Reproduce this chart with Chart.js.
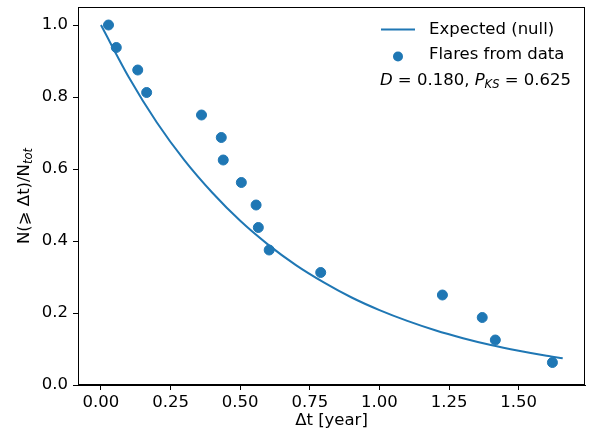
<!DOCTYPE html>
<html>
<head>
<meta charset="utf-8">
<script src="https://cdn.jsdelivr.net/npm/chart.js@4"></script>
<style>
  html, body { margin: 0; padding: 0; background: #fff; }
  #wrap { width: 597px; height: 437px; }
</style>
</head>
<body>
<div id="wrap"><canvas id="myChart" width="597" height="437"></canvas></div>
<script>
// Données
const flareDt = [0.027, 0.055, 0.132, 0.164, 0.361, 0.432, 0.439, 0.504, 0.557, 0.565, 0.604, 0.789, 1.226, 1.369, 1.416, 1.621];
const flareFrac = [1.0, 0.9375, 0.875, 0.8125, 0.75, 0.6875, 0.625, 0.5625, 0.5, 0.4375, 0.375, 0.3125, 0.25, 0.1875, 0.125, 0.0625];

// courbe attendue (null), points relevés le long de la ligne
const nullDt = [0, 0.1, 0.2, 0.3, 0.4, 0.5, 0.6, 0.7, 0.8, 0.9, 1.0, 1.1, 1.2, 1.3, 1.4, 1.5, 1.6, 1.658];
const nullFrac = [1.0, 0.855, 0.730, 0.624, 0.534, 0.456, 0.390, 0.333, 0.285, 0.243, 0.208, 0.178, 0.152, 0.130, 0.111, 0.095, 0.081, 0.074];

const xTicks = [0, 0.25, 0.5, 0.75, 1.0, 1.25, 1.5];
const yTicks = [0, 0.2, 0.4, 0.6, 0.8, 1.0];

const blue = '#1f77b4';
const font = 'DejaVu Sans';
const fs = 16.5;

// dessine un texte fait de morceaux (normal, italique, indice)
function drawRich(ctx, parts, x, y, align) {
    let total = 0;
    const fontOf = p => (p.it ? 'italic ' : '') + (p.sub ? 11.5 : fs) + 'px "' + font + '"';
    const sizes = parts.map(p => {
        ctx.font = fontOf(p);
        const w = ctx.measureText(p.t).width;
        total += w;
        return w;
    });
    let cx = align === 'right' ? x - total : (align === 'center' ? x - total / 2 : x);
    parts.forEach((p, i) => {
        ctx.font = fontOf(p);
        ctx.fillText(p.t, cx, y + (p.sub ? 4 : 0));
        cx += sizes[i];
    });
}

const extras = {
    id: 'extras',
    afterDraw(chart) {
        const ctx = chart.ctx;
        const a = chart.chartArea;
        ctx.save();
        // cadre complet
        ctx.strokeStyle = '#000';
        ctx.lineWidth = 1;
        ctx.strokeRect(a.left + 0.5, a.top + 0.5, a.right - a.left - 1, a.bottom - a.top - 1);

        ctx.fillStyle = '#000';
        ctx.textBaseline = 'middle';
        ctx.textAlign = 'left';

        // légende
        ctx.strokeStyle = blue;
        ctx.lineWidth = 2;
        ctx.beginPath();
        ctx.moveTo(381, 29.5);
        ctx.lineTo(415, 29.5);
        ctx.stroke();
        ctx.fillStyle = blue;
        ctx.beginPath();
        ctx.arc(398, 56.5, 5, 0, Math.PI * 2);
        ctx.fill();
        ctx.fillStyle = '#000';
        ctx.font = fs + 'px "' + font + '"';
        ctx.fillText('Expected (null)', 429, 30);
        ctx.fillText('Flares from data', 429, 55);

        drawRich(ctx, [
            {t: 'D', it: true}, {t: ' = 0.180, '}, {t: 'P', it: true},
            {t: 'KS', it: true, sub: true}, {t: ' = 0.625'}
        ], 571, 81, 'right');

        // titre axe y
        ctx.save();
        ctx.translate(25, (a.top + a.bottom) / 2);
        ctx.rotate(-Math.PI / 2);
        drawRich(ctx, [{t: 'N(⩾ Δt)/N'}, {t: 'tot', it: true, sub: true}], 0, 0, 'center');
        ctx.restore();

        // titre axe x
        ctx.textAlign = 'center';
        ctx.font = fs + 'px "' + font + '"';
        ctx.fillText('Δt [year]', (a.left + a.right) / 2, 421);
        ctx.restore();
    }
};

const data = {
    datasets: [{
        label: 'Flares from data',
        data: flareDt.map((x, i) => ({x: x, y: flareFrac[i]})),
        backgroundColor: blue,
        borderColor: blue,
        pointRadius: 5,
        pointHoverRadius: 5,
        showLine: false,
        order: 1
    }, {
        label: 'Expected (null)',
        data: nullDt.map((x, i) => ({x: x, y: nullFrac[i]})),
        borderColor: blue,
        borderWidth: 2,
        pointRadius: 0,
        showLine: true,
        cubicInterpolationMode: 'monotone',
        order: 2
    }]
};

const tickFont = {family: font, size: fs};

const config = {
    type: 'scatter',
    data,
    options: {
        responsive: false,
        animation: false,
        events: [],
        layout: {padding: {top: 7, right: 12, left: 0, bottom: 0}},
        plugins: {legend: {display: false}, tooltip: {enabled: false}},
        scales: {
            x: {
                type: 'linear',
                min: -0.0825,
                max: 1.738,
                afterBuildTicks: s => { s.ticks = xTicks.map(v => ({value: v})); },
                afterFit: s => { s.height = 52; s.paddingLeft = 0; s.paddingRight = 0; },
                ticks: {
                    color: '#000', font: tickFont, padding: 3,
                    callback: v => v.toFixed(2)
                },
                grid: {drawOnChartArea: false, drawTicks: true, tickLength: 5, color: '#000'},
                border: {color: '#000', width: 1}
            },
            y: {
                type: 'linear',
                min: 0,
                max: 1.05,
                afterBuildTicks: s => { s.ticks = yTicks.map(v => ({value: v})); },
                afterFit: s => { s.width = 78; s.paddingTop = 0; s.paddingBottom = 0; },
                ticks: {
                    color: '#000', font: tickFont, padding: 5,
                    callback: v => v.toFixed(1)
                },
                grid: {drawOnChartArea: false, drawTicks: true, tickLength: 5, color: '#000'},
                border: {color: '#000', width: 1}
            }
        }
    },
    plugins: [extras]
};

const mychart = new Chart(document.getElementById('myChart'), config);
</script>
</body>
</html>
